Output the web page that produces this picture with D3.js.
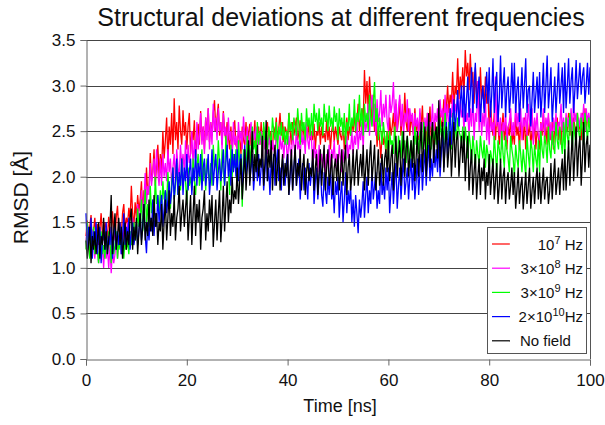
<!DOCTYPE html>
<html>
<head>
<meta charset="utf-8">
<script src="https://cdn.jsdelivr.net/npm/d3@7"></script>
<style>
  body { margin: 0; background: #fff; }
  text { font-family: "Liberation Sans", Arial, sans-serif; fill: #111; }
</style>
</head>
<body>
<div id="chart"></div>
<script>
// RMSD traces, one value every 0.25 ns from 0 to 100 ns
// (each row is 5 ns)
var rmsd1e7 = [
  1.35,1.52,1.3,1.45,1.58,1.28,1.4,1.55,1.33,1.48,1.25,1.42,1.6,1.38,1.3,1.5,1.44,1.32,1.56,1.4,
  1.36,1.62,1.45,1.3,1.55,1.68,1.4,1.5,1.35,1.6,1.7,1.42,1.55,1.48,1.66,1.52,1.9,1.6,1.45,1.72,
  1.55,1.8,1.62,1.75,1.95,1.6,1.85,1.7,2.1,1.8,1.9,2.26,1.95,2.05,2.3,1.9,2.15,2.35,2.0,2.25,
  2.05,2.5,2.2,2.4,2.65,2.15,2.55,2.35,2.7,2.25,2.86,2.4,2.6,2.3,2.78,2.5,2.35,2.73,2.45,2.6,
  2.3,2.55,2.7,2.25,2.5,2.4,2.62,2.2,2.45,2.58,2.35,2.72,2.4,2.55,2.3,2.65,2.45,2.75,2.38,2.6,
  2.45,2.7,2.84,2.5,2.65,2.8,2.45,2.6,2.35,2.72,2.5,2.4,2.6,2.44,2.3,2.55,2.28,2.5,2.62,2.35,
  2.3,2.5,2.42,2.25,2.55,2.4,2.35,2.6,2.3,2.48,2.58,2.34,2.5,2.4,2.62,2.3,2.45,2.55,2.35,2.6,
  2.3,2.55,2.4,2.48,2.6,2.35,2.5,2.42,2.3,2.55,2.45,2.65,2.4,2.52,2.7,2.45,2.6,2.38,2.55,2.5,
  2.4,2.7,2.5,2.35,2.6,2.45,2.55,2.65,2.4,2.5,2.62,2.38,2.6,2.45,2.35,2.58,2.42,2.62,2.4,2.5,
  2.4,2.58,2.3,2.5,2.45,2.6,2.35,2.55,2.42,2.48,2.38,2.62,2.4,2.55,2.3,2.5,2.6,2.38,2.55,2.45,
  2.35,2.55,2.45,2.4,2.6,2.3,2.5,2.65,2.4,2.55,2.45,2.6,2.5,2.7,2.48,2.6,2.8,2.5,2.65,2.75,
  2.6,3.17,2.8,3.05,2.7,3.1,2.85,2.6,2.9,2.5,2.7,2.33,2.55,2.4,2.2,2.5,2.35,2.45,2.25,2.5,
  2.3,2.65,2.45,2.55,2.7,2.4,2.8,2.5,2.62,2.85,2.45,2.7,2.55,2.92,2.6,2.5,2.75,2.45,2.68,2.55,
  2.45,2.75,2.5,2.62,2.4,2.7,2.55,2.78,2.45,2.6,2.35,2.7,2.5,2.77,2.4,2.55,2.3,2.6,2.45,2.5,
  2.45,2.7,2.55,2.62,2.85,2.6,2.75,3.0,2.7,2.9,2.8,3.15,2.75,3.0,2.9,3.3,2.85,3.1,2.95,3.2,
  2.9,3.39,3.1,3.25,2.95,3.35,3.0,3.15,2.8,3.2,2.9,3.05,2.7,3.2,2.85,3.0,2.75,3.1,2.8,2.95,
  2.5,2.8,2.6,2.45,2.7,2.4,2.65,2.55,2.35,2.6,2.5,2.7,2.4,2.6,2.3,2.55,2.45,2.65,2.35,2.5,
  2.35,2.7,2.45,2.55,2.3,2.6,2.5,2.4,2.65,2.3,2.55,2.45,2.6,2.35,2.5,2.4,2.62,2.3,2.5,2.45,
  2.3,2.6,2.45,2.7,2.4,2.55,2.35,2.65,2.5,2.4,2.6,2.3,2.55,2.45,2.65,2.4,2.55,2.35,2.6,2.5,
  2.35,2.6,2.5,2.7,2.45,2.62,2.4,2.65,2.55,2.45,2.7,2.5,2.6,2.4,2.7,2.55,2.75,2.5,2.65,2.6,
  2.6];

var rmsd3e8 = [
  1.3,1.45,1.2,1.38,1.15,1.42,1.25,1.1,1.35,1.2,1.05,1.3,1.15,1.25,1.0,1.28,1.1,1.22,1.0,1.25,
  0.94,1.2,1.05,1.15,1.35,1.1,1.25,1.4,1.15,1.3,1.45,1.2,1.35,1.5,1.25,1.4,1.3,1.55,1.35,1.45,
  1.4,1.7,1.5,1.62,1.85,1.55,1.75,2.04,1.7,1.9,1.8,2.15,1.9,2.05,2.2,1.95,2.3,2.05,1.9,2.2,
  1.9,2.25,2.0,2.15,1.95,2.3,2.05,2.2,1.9,2.1,2.25,1.95,2.3,2.1,2.0,2.35,2.1,2.25,2.05,2.4,
  2.0,2.35,2.15,2.25,2.5,2.1,2.4,2.2,2.6,2.3,2.45,2.7,2.35,2.55,2.25,2.65,2.4,2.75,2.3,2.6,
  2.35,2.8,2.5,2.65,2.4,2.75,2.5,2.6,2.3,2.7,2.45,2.55,2.25,2.65,2.4,2.5,2.2,2.6,2.35,2.45,
  2.25,2.6,2.4,2.5,2.3,2.66,2.45,2.35,2.55,2.2,2.45,2.6,2.3,2.5,2.4,2.55,2.25,2.48,2.35,2.5,
  2.2,2.5,2.3,2.4,2.25,2.45,2.35,2.2,2.4,2.3,2.25,2.5,2.35,2.2,2.45,2.3,2.4,2.2,2.45,2.35,
  2.15,2.45,2.3,2.2,2.5,2.35,2.25,2.55,2.3,2.4,2.2,2.5,2.35,2.45,2.25,2.6,2.4,2.3,2.55,2.4,
  2.1,2.4,2.2,2.3,2.05,2.35,2.15,2.25,2.1,2.3,2.0,2.25,2.15,2.35,2.05,2.3,2.2,2.4,2.1,2.25,
  2.1,2.35,2.2,2.05,2.3,2.15,2.25,2.45,2.2,2.35,2.3,2.5,2.25,2.45,2.35,2.6,2.3,2.5,2.4,2.6,
  2.3,2.7,2.5,2.6,2.8,2.45,2.75,2.9,2.55,2.8,2.45,2.85,2.6,2.7,2.95,2.55,2.8,2.65,2.9,2.6,
  2.5,2.9,2.7,2.8,3.04,2.6,2.85,2.5,2.75,2.9,2.55,2.8,2.45,2.7,2.6,2.85,2.5,2.75,2.6,2.7,
  2.4,2.7,2.55,2.65,2.45,2.75,2.5,2.6,2.35,2.65,2.5,2.7,2.4,2.6,2.55,2.8,2.45,2.7,2.6,2.75,
  2.5,2.85,2.65,2.75,2.55,2.9,2.6,2.8,2.5,2.75,2.65,2.9,2.6,2.8,2.7,2.9,2.55,2.85,2.65,2.75,
  2.5,2.8,2.6,2.7,2.45,2.75,2.55,2.9,2.4,2.7,2.6,3.05,2.5,2.8,2.45,2.7,2.55,2.85,2.4,2.65,
  2.35,2.7,2.5,2.6,2.4,3.1,2.55,2.75,2.45,2.65,2.3,2.6,2.5,2.7,2.4,2.55,2.6,2.75,2.45,2.6,
  2.45,2.8,2.55,2.7,2.5,2.75,2.4,2.65,2.55,2.7,2.45,2.8,2.6,2.5,2.75,2.35,2.65,2.5,2.7,2.45,
  2.4,2.59,2.5,2.75,2.45,2.65,2.55,2.7,2.4,2.6,2.35,2.65,2.5,2.7,2.45,2.6,2.55,2.8,2.5,2.65,
  2.4,2.7,2.55,2.65,2.5,2.75,2.45,2.85,2.6,2.7,2.5,2.65,2.55,2.7,2.6,2.8,2.5,2.75,2.6,2.7,
  2.6];

var rmsd3e9 = [
  1.2,1.5,1.3,1.1,1.4,1.25,1.45,1.15,1.35,1.2,1.05,1.3,1.4,1.15,1.25,1.1,1.35,1.2,1.4,1.3,
  1.05,1.3,1.15,1.25,1.4,1.1,1.3,1.2,1.45,1.25,1.1,1.35,1.2,1.3,1.15,1.4,1.25,1.35,1.5,1.3,
  1.35,1.65,1.45,1.55,1.75,1.4,1.6,1.86,1.5,1.7,1.45,1.9,1.6,1.75,1.55,2.0,1.7,1.8,1.6,1.85,
  1.6,1.95,1.75,1.85,1.7,2.05,1.8,1.65,1.95,2.1,1.75,1.9,2.15,1.8,2.0,1.85,2.2,1.9,2.05,1.95,
  1.7,2.1,1.9,2.0,1.85,2.2,1.95,1.8,2.1,2.25,1.9,2.0,2.3,1.95,2.15,1.85,2.2,2.05,1.95,2.15,
  1.9,2.35,2.1,2.2,2.0,2.4,2.15,1.85,2.3,2.05,1.9,2.45,2.2,2.1,1.8,2.35,2.0,2.25,2.1,2.3,
  1.9,2.4,2.15,2.25,1.67,2.3,2.1,2.0,2.45,2.2,2.35,2.1,2.55,2.3,2.4,2.2,2.6,2.35,2.5,2.45,
  2.25,2.6,2.4,2.5,2.3,2.55,2.45,2.35,2.65,2.5,2.4,2.6,2.3,2.55,2.45,2.6,2.4,2.55,2.35,2.5,
  2.35,2.7,2.5,2.6,2.4,2.65,2.55,2.45,2.75,2.55,2.35,2.7,2.5,2.6,2.4,2.75,2.55,2.65,2.45,2.7,
  2.45,2.8,2.6,2.7,2.5,2.75,2.55,2.65,2.45,2.8,2.6,2.7,2.5,2.78,2.55,2.65,2.5,2.77,2.6,2.7,
  2.4,2.75,2.55,2.65,2.45,2.7,2.35,2.6,2.5,2.8,2.45,2.65,2.55,2.85,2.5,2.7,2.6,2.9,2.55,2.75,
  2.45,2.8,2.6,2.7,2.5,2.9,2.65,2.55,2.8,3.04,2.6,2.75,2.4,2.65,2.5,2.35,2.6,2.45,2.3,2.5,
  2.2,2.5,2.35,2.4,2.25,2.55,2.3,2.15,2.45,2.35,2.2,2.5,2.3,2.4,2.15,2.45,2.3,2.1,2.4,2.3,
  2.2,2.55,2.35,2.45,2.25,2.5,2.4,2.3,2.6,2.45,2.2,2.55,2.35,2.45,2.3,2.59,2.4,2.5,2.35,2.55,
  2.3,2.65,2.45,2.55,2.35,2.7,2.5,2.4,2.6,2.45,2.3,2.7,2.5,2.55,2.4,2.65,2.5,2.45,2.35,2.55,
  2.3,2.55,2.4,2.2,2.5,2.35,2.15,2.45,2.3,2.1,2.4,2.25,2.15,2.45,2.3,2.2,2.4,2.1,2.35,2.25,
  2.05,2.29,2.2,2.1,2.45,2.25,2.05,2.4,2.3,2.15,2.5,2.25,2.1,2.45,2.3,2.2,2.05,2.45,2.3,2.2,
  2.0,2.35,2.2,2.1,2.4,2.25,2.05,2.3,2.15,2.0,2.45,2.25,2.1,2.4,2.3,2.05,2.35,2.2,2.1,2.4,
  2.05,2.5,2.3,2.2,2.45,2.35,2.15,2.55,2.3,2.2,2.5,2.35,2.25,2.6,2.4,2.3,2.55,2.4,2.25,2.6,
  2.2,2.65,2.45,2.35,2.7,2.5,2.3,2.6,2.45,2.35,2.7,2.5,2.4,2.65,2.5,2.35,2.7,2.55,2.4,2.65,
  2.5];

var rmsd2e10 = [
  1.6,1.2,1.45,1.3,1.55,1.1,1.4,1.25,1.5,1.15,1.35,1.45,1.05,1.3,1.4,1.2,1.5,1.15,1.35,1.25,
  1.45,1.1,1.3,1.55,1.2,1.4,1.25,1.5,1.15,1.35,1.6,1.25,1.45,1.3,1.55,1.2,1.4,1.5,1.25,1.35,
  1.5,1.25,1.4,1.6,1.3,1.45,1.7,1.35,1.16,1.5,1.3,1.55,1.4,1.75,1.35,1.6,1.45,1.8,1.5,1.65,
  1.8,1.45,1.65,1.85,1.6,1.75,1.95,1.7,1.85,2.1,1.75,1.95,2.2,1.8,2.05,1.9,2.2,1.8,2.1,1.95,
  2.25,1.85,2.05,2.2,1.8,2.1,1.95,2.3,1.9,2.15,2.0,2.25,1.85,2.1,2.2,1.9,2.05,2.25,1.8,2.0,
  2.3,1.9,2.1,2.25,1.85,2.05,2.2,1.95,2.1,2.3,1.9,2.15,2.35,2.0,2.2,1.9,2.3,2.05,2.25,2.0,
  2.3,1.95,2.15,2.25,1.9,2.1,2.35,2.0,2.2,2.3,1.95,2.1,2.25,1.85,2.05,2.2,1.95,2.25,1.9,2.1,
  2.2,1.85,2.05,2.3,1.95,2.1,1.8,2.2,2.0,2.25,1.9,2.15,2.3,1.95,2.1,1.85,2.2,2.05,1.9,2.15,
  2.25,1.8,2.0,2.2,1.85,2.1,2.3,1.9,2.05,2.2,1.75,2.0,2.15,1.85,2.1,1.95,1.75,2.15,1.9,2.05,
  2.2,1.7,1.95,2.1,1.75,2.0,2.15,1.8,1.67,2.05,1.85,1.7,2.0,1.8,2.1,1.75,1.9,1.6,1.95,1.8,
  2.0,1.55,1.8,1.95,1.5,1.75,2.05,1.6,1.85,1.7,1.9,1.5,1.75,1.45,1.8,1.6,1.38,1.75,1.55,1.7,
  1.95,1.55,1.8,2.0,1.6,1.85,1.7,2.1,1.75,1.9,2.05,1.65,1.85,1.7,2.15,1.8,1.95,1.75,2.1,1.85,
  2.1,1.6,1.85,2.05,1.7,1.95,2.15,1.65,1.9,2.1,1.75,2.0,2.2,1.8,1.95,2.1,1.75,2.0,2.2,1.85,
  2.15,1.75,1.95,2.2,1.8,2.05,2.25,1.85,2.1,2.3,1.9,2.15,2.35,1.95,2.2,2.0,2.35,2.1,2.3,2.05,
  2.4,2.0,2.25,2.5,2.1,2.35,2.6,2.2,2.45,2.75,2.35,2.6,2.85,2.5,2.7,2.95,2.55,2.8,3.0,2.65,
  3.0,2.6,2.85,3.1,2.65,2.9,3.2,2.7,3.0,3.25,2.75,2.95,3.1,2.6,2.85,3.0,2.7,2.9,3.15,2.8,
  3.2,2.65,2.9,3.3,2.7,3.0,3.15,2.6,2.85,3.33,2.75,3.0,3.2,2.65,2.95,3.1,2.7,2.9,3.25,2.8,
  3.25,2.7,2.95,3.1,2.6,2.9,3.2,2.75,3.0,3.3,2.7,2.95,3.0,2.55,2.85,3.15,2.7,2.9,3.1,2.75,
  3.15,2.65,2.9,3.25,2.7,3.0,3.33,2.75,2.95,3.2,2.6,2.85,3.1,2.7,2.95,3.25,2.8,3.0,3.2,2.7,
  3.25,2.75,3.0,3.3,2.8,3.05,3.2,2.7,2.95,3.28,2.85,3.05,3.25,2.9,3.1,3.2,2.8,3.0,3.25,2.9,
  3.2];

var rmsdNoField = [
  1.3,1.1,1.25,1.45,1.05,1.35,1.2,1.4,1.15,1.3,1.5,1.1,1.35,1.25,1.55,1.2,1.4,1.15,1.3,1.45,
  1.8,1.15,1.4,1.6,1.2,1.35,1.55,1.25,1.45,1.1,1.3,1.5,1.2,1.4,1.25,1.55,1.65,1.2,1.45,1.3,
  1.55,1.15,1.4,1.6,1.25,1.45,1.7,1.3,1.5,1.35,1.75,1.4,1.55,1.35,1.8,1.45,1.6,1.25,1.5,1.4,
  1.7,1.2,1.5,1.75,1.3,1.55,1.85,1.35,1.6,1.45,1.8,1.3,1.55,1.65,1.9,1.4,1.6,1.75,1.45,1.65,
  1.85,1.3,1.55,1.8,1.25,1.6,1.9,1.35,1.7,1.5,1.75,1.2,1.55,1.65,1.85,1.3,1.6,1.4,1.75,1.5,
  1.8,1.23,1.5,1.75,1.3,1.6,1.85,1.28,1.55,1.9,1.4,1.7,1.95,1.5,1.75,1.6,2.0,1.7,1.85,1.75,
  2.1,1.7,1.95,2.2,1.75,2.0,2.3,1.85,2.1,2.4,1.9,2.15,2.5,1.95,2.25,2.05,2.35,2.0,2.2,2.1,
  2.45,1.9,2.15,2.62,1.95,2.3,2.1,2.4,1.85,2.2,2.35,1.9,2.1,2.3,1.85,2.05,2.25,1.9,2.15,2.0,
  2.25,1.8,2.05,2.3,1.85,2.1,2.35,1.9,2.15,2.0,2.3,1.85,2.1,2.25,1.8,2.05,2.2,1.95,2.1,2.0,
  2.3,1.85,2.1,2.25,1.8,2.05,2.3,1.9,2.15,2.35,1.85,2.1,2.3,1.9,2.05,2.25,1.8,2.1,2.2,1.95,
  2.25,1.85,2.05,2.3,1.9,2.15,2.35,1.8,2.1,2.25,1.85,2.0,2.3,1.9,2.15,2.3,1.9,2.1,2.25,2.0,
  2.35,1.85,2.1,2.3,1.9,2.2,2.4,1.95,2.15,2.35,1.85,2.05,2.3,1.9,2.1,2.25,1.9,2.2,2.3,2.05,
  2.4,1.95,2.2,2.35,1.85,2.15,2.45,2.0,2.25,2.4,1.9,2.2,2.5,2.0,2.3,2.45,2.0,2.25,2.4,2.1,
  2.45,1.95,2.2,2.5,2.0,2.3,2.6,2.05,2.35,2.55,2.0,2.3,2.7,2.1,2.4,2.6,2.15,2.45,2.55,2.2,
  2.84,2.1,2.4,2.6,2.05,2.35,2.55,2.1,2.3,2.5,2.0,2.3,2.6,2.1,2.4,2.5,2.0,2.25,2.45,2.15,
  2.5,1.95,2.25,2.45,1.85,2.1,2.3,1.8,2.05,2.25,1.75,2.0,2.2,1.8,2.1,1.95,2.2,1.75,2.05,1.9,
  2.25,1.8,2.0,2.2,1.75,1.95,2.15,1.7,1.9,2.2,1.75,2.0,2.1,1.7,1.95,2.05,1.75,1.9,2.1,1.8,
  2.05,1.65,1.85,2.1,1.7,1.9,2.0,1.64,1.85,2.05,1.7,1.9,2.1,1.65,1.85,2.0,1.7,1.95,2.1,1.75,
  2.05,1.7,1.9,2.1,1.75,1.95,2.0,1.7,1.85,2.15,1.75,2.0,2.2,1.8,1.95,2.1,1.8,2.05,2.2,1.85,
  2.3,1.85,2.1,2.4,1.9,2.2,2.5,1.95,2.25,2.55,2.0,2.3,2.45,1.9,2.2,2.6,2.05,2.35,2.45,2.1,
  2.35];

var seriesColors = ["#ff0000", "#ff00ff", "#00ff00", "#0000ff", "#000000"];
// legend labels: [mantissa, exponent, unit]
var legendLabels = [["10", "7", " Hz"], ["3\u00d710", "8", " Hz"], ["3\u00d710", "9", " Hz"], ["2\u00d710", "10", "Hz"], ["No field", "", ""]];
var xTicks = [0, 20, 40, 60, 80, 100];
var yTicks = [0, 0.5, 1, 1.5, 2, 2.5, 3, 3.5];
var timeSpan = [0, 100];

var allSeries = [rmsd1e7, rmsd3e8, rmsd3e9, rmsd2e10, rmsdNoField];

var W = 605, H = 425;
var margin = {top: 40, right: 15, bottom: 66, left: 86};
var width = W - margin.left - margin.right,
    height = H - margin.top - margin.bottom;

var svg = d3.select("#chart").append("svg")
  .attr("width", W).attr("height", H)
  .append("g")
  .attr("transform", `translate(${margin.left},${margin.top})`);

var x = d3.scaleLinear().domain(timeSpan).range([0, width]);
var y = d3.scaleLinear().domain([0, 3.5]).range([height, 0]);

// horizontal grid lines
svg.append("g")
  .selectAll("line")
  .data(yTicks.filter(d => d > 0))
  .enter().append("line")
  .attr("x1", 0).attr("x2", width)
  .attr("y1", d => Math.round(y(d)) + 0.5).attr("y2", d => Math.round(y(d)) + 0.5)
  .attr("stroke", "#444").attr("stroke-width", 1);

// the traces, samples evenly spread over the time span
var line = d3.line()
  .x(function(d, i, arr) { return x(timeSpan[1] * i / (arr.length - 1)); })
  .y(d => y(d));

svg.append("g")
  .selectAll("path")
  .data(allSeries)
  .enter().append("path")
  .attr("d", d => line(d))
  .attr("fill", "none")
  .attr("stroke", (d, i) => seriesColors[i])
  .attr("stroke-width", 1.3);

// frame on the right
svg.append("line")
  .attr("x1", width + 0.5).attr("x2", width + 0.5)
  .attr("y1", 0).attr("y2", height)
  .attr("stroke", "#555");

// axes
var yAxis = svg.append("g")
  .attr("transform", "translate(0.5,0)")
  .call(d3.axisLeft(y).tickValues(yTicks).tickFormat(d3.format(".1f")).tickSize(6).tickPadding(5));
var xAxis = svg.append("g")
  .attr("transform", `translate(0,${height + 0.5})`)
  .call(d3.axisBottom(x).tickValues(xTicks).tickSize(6).tickPadding(8));

[yAxis, xAxis].forEach(function(ax) {
  ax.select(".domain").attr("stroke", "#666");
  ax.selectAll(".tick line").attr("stroke", "#666");
  ax.selectAll("text").attr("font-size", "17px").attr("fill", "#111")
    .style("font-family", "'Liberation Sans', Arial, sans-serif");
});

// title and axis titles
svg.append("text")
  .attr("x", 255).attr("y", -14)
  .attr("text-anchor", "middle")
  .attr("font-size", "25px")
  .text("Structural deviations at different frequencies");

svg.append("text")
  .attr("x", 254).attr("y", height + 53)
  .attr("text-anchor", "middle")
  .attr("font-size", "18px")
  .text("Time [ns]");

svg.append("text")
  .attr("transform", `translate(-58,${height / 2 - 2}) rotate(-90)`)
  .attr("text-anchor", "middle")
  .attr("font-size", "21px")
  .text("RMSD [\u00c5]");

// legend
var lg = svg.append("g").attr("transform", `translate(${487 - margin.left},${227 - margin.top})`);
lg.append("rect")
  .attr("x", 0.5).attr("y", 0.5)
  .attr("width", 99).attr("height", 126)
  .attr("fill", "#fff").attr("stroke", "#555");

var rows = lg.selectAll("g.row")
  .data(legendLabels)
  .enter().append("g")
  .attr("class", "row")
  .attr("transform", (d, i) => `translate(0,${17 + i * 24.2})`);

rows.append("line")
  .attr("x1", 5).attr("x2", 23)
  .attr("stroke", (d, i) => seriesColors[i]).attr("stroke-width", 1.2);

rows.append("text")
  .attr("x", (d, i) => i === 4 ? 33 : 96)
  .attr("y", 5.5)
  .attr("text-anchor", (d, i) => i === 4 ? "start" : "end")
  .attr("font-size", "15px")
  .each(function(d) {
    var t = d3.select(this);
    t.append("tspan").text(d[0]);
    if (d[1]) {
      t.append("tspan").attr("dy", -6).attr("font-size", "11px").text(d[1]);
      t.append("tspan").attr("dy", 6).text(d[2]);
    }
  });
</script>
</body>
</html>
